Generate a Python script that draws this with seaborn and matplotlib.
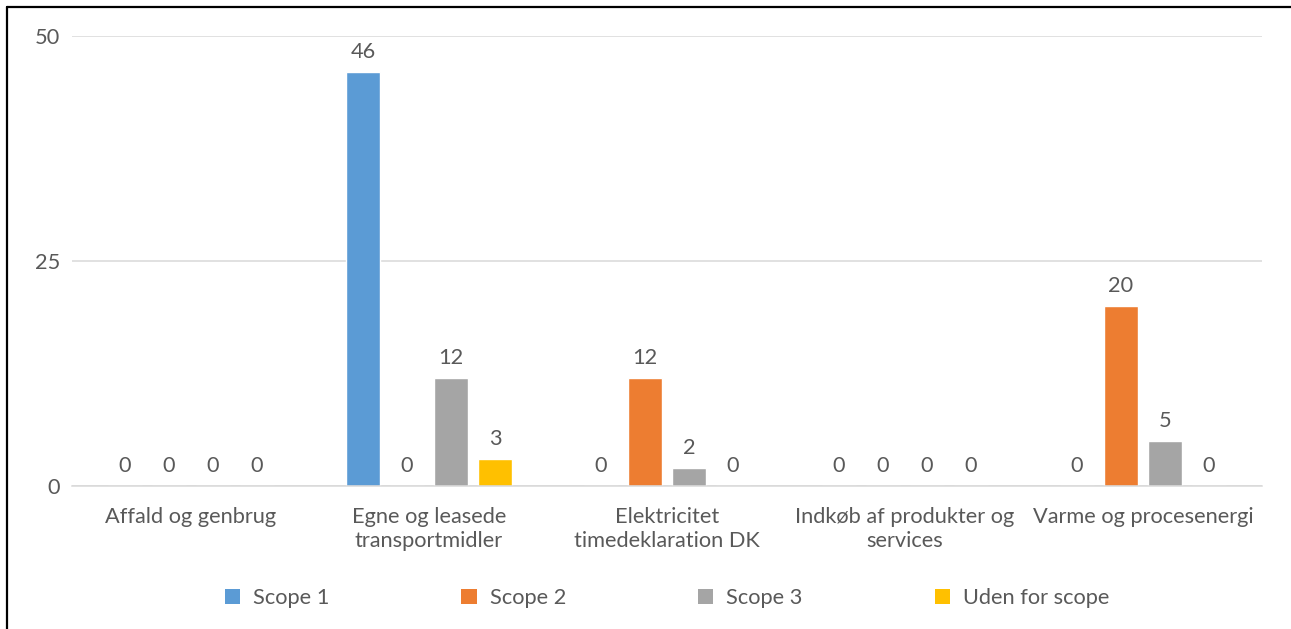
import matplotlib
matplotlib.use("Agg")
import matplotlib.pyplot as plt
from matplotlib.lines import Line2D
from matplotlib.patches import Patch
import seaborn as sns
import pandas as pd

categories = [
    "Affald og genbrug",
    "Egne og leasede\ntransportmidler",
    "Elektricitet\ntimedeklaration DK",
    "Indkøb af produkter og\nservices",
    "Varme og procesenergi",
]
series = ["Scope 1", "Scope 2", "Scope 3", "Uden for scope"]
scope1 = [0, 46, 0, 0, 0]
scope2 = [0, 0, 12, 0, 20]
scope3 = [0, 12, 2, 0, 5]
uden_for_scope = [0, 3, 0, 0, 0]
y_ticks = [0, 25, 50]

colors = ["#5B9BD5", "#ED7D31", "#A5A5A5", "#FFC000"]
text_color = "#595959"
grid_color = "#D9D9D9"
fs = 15.7

rows = []
for name, vals in zip(series, [scope1, scope2, scope3, uden_for_scope]):
    for cat, v in zip(categories, vals):
        rows.append({"Kategori": cat, "Scope": name, "Værdi": v})
df = pd.DataFrame(rows)

sns.set_theme(style="white")
plt.rcParams["font.family"] = ["Lato", "DejaVu Sans"]

fig = plt.figure(figsize=(12.91, 6.29), dpi=100)
ax = fig.add_axes([72 / 1291, 1 - 486 / 629, 1190 / 1291, 450 / 629])

sns.barplot(
    data=df, x="Kategori", y="Værdi", hue="Scope",
    order=categories, hue_order=series, palette=colors,
    width=0.74, gap=0.227, saturation=1, errorbar=None, ax=ax,
)
ax.get_legend().remove()

for cont in ax.containers:
    ax.bar_label(cont, fmt="%g", padding=7.5, fontsize=fs, color=text_color)

ax.set_ylim(0, 50)
ax.set_xlim(-0.5, len(categories) - 0.5)
ax.set_yticks(y_ticks)
ax.set_xlabel("")
ax.set_ylabel("")
ax.yaxis.grid(True, color=grid_color, linewidth=1.1)
ax.set_axisbelow(True)
for side in ["left", "right", "top"]:
    ax.spines[side].set_visible(False)
ax.spines["bottom"].set_color(grid_color)
ax.spines["bottom"].set_linewidth(1.1)
ax.tick_params(axis="both", length=0, labelsize=fs, labelcolor=text_color)
ax.tick_params(axis="y", pad=8.5)
ax.tick_params(axis="x", pad=15)
for lbl in ax.get_xticklabels():
    lbl.set_linespacing(1.25)

handles = [Patch(facecolor=c, edgecolor="none") for c in colors]
fig.legend(
    handles, series, loc="center", bbox_to_anchor=(0.5167, 1 - 598 / 629),
    ncol=4, frameon=False, fontsize=fs, labelcolor=text_color,
    handlelength=0.7, handleheight=0.7, handletextpad=0.6, columnspacing=6.05,
)

# outer frame on the left and top edges
fig.add_artist(Line2D([7 / 1291, 7 / 1291], [0, 1 - 7 / 629], transform=fig.transFigure,
                      color="black", linewidth=1.6))
fig.add_artist(Line2D([7 / 1291, 1], [1 - 7 / 629, 1 - 7 / 629], transform=fig.transFigure,
                      color="black", linewidth=1.6))

fig.savefig("out.png", dpi=100, facecolor="white")
